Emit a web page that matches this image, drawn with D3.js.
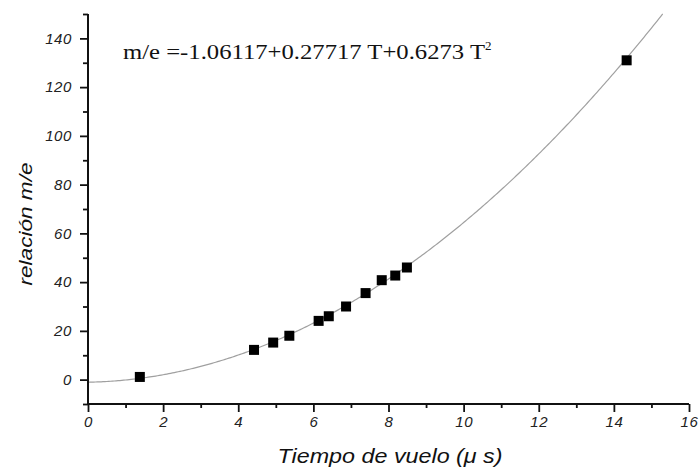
<!DOCTYPE html>
<html><head><meta charset="utf-8">
<script src="https://cdn.jsdelivr.net/npm/d3@7"></script>
<style>body{margin:0;background:#fff}svg{display:block}</style>
</head><body>
<svg id="c" width="699" height="470"></svg>
<script>
// Data
const timeValues = [1.38, 4.42, 4.93, 5.36, 6.14, 6.41, 6.87, 7.39, 7.82, 8.18, 8.49, 14.34];
const ratioValues = [1.1, 12.2, 15.2, 18.0, 24.1, 26.0, 30.0, 35.5, 40.8, 42.7, 46.0, 131.0];
const fitCoefficients = [-1.06117, 0.27717, 0.6273];
const xTicks = [0, 2, 4, 6, 8, 10, 12, 14, 16];
const yTicks = [0, 20, 40, 60, 80, 100, 120, 140];
const xMinorTicks = [1, 3, 5, 7, 9, 11, 13, 15];
const yMinorTicks = [-10, 10, 30, 50, 70, 90, 110, 130, 150];

const svg = d3.select("#c");
const x = d3.scaleLinear().domain([0, 16]).range([88, 689]);
const y = d3.scaleLinear().domain([-10, 150]).range([404, 14]);
const axisColor = "#111";
const sans = "Liberation Sans, Arial, sans-serif";

// Fit curve
const fit = t => fitCoefficients[0] + fitCoefficients[1]*t + fitCoefficients[2]*t*t;
const curvePts = d3.range(0, 16.001, 0.05).map(t => [t, fit(t)]).filter(p => p[1] <= 150.5);
svg.append("path").datum(curvePts)
  .attr("fill","none").attr("stroke","#a0a0a0").attr("stroke-width",1.2)
  .attr("d", d3.line().x(d=>x(d[0])).y(d=>y(d[1])));

// Points
const pts = timeValues.map((t,i)=>[t, ratioValues[i]]);
svg.selectAll("rect.pt").data(pts).enter().append("rect").attr("class","pt")
  .attr("x", d=>x(d[0])-5).attr("y", d=>y(d[1])-5)
  .attr("width",10).attr("height",10).attr("fill","#000");

// Axes
const xAxis = svg.append("g").attr("transform",`translate(0,${y(-10)})`)
  .call(d3.axisBottom(x).tickValues(xTicks).tickSize(8).tickPadding(4).tickFormat(d3.format("d")));
svg.append("g").attr("transform",`translate(0,${y(-10)})`)
  .call(d3.axisBottom(x).tickValues(xMinorTicks).tickSize(4).tickFormat(""))
  .select(".domain").remove();
const yAxis = svg.append("g").attr("transform",`translate(${x(0)},0)`)
  .call(d3.axisLeft(y).tickValues(yTicks).tickSize(8).tickPadding(8).tickFormat(d3.format("d")));
svg.append("g").attr("transform",`translate(${x(0)},0)`)
  .call(d3.axisLeft(y).tickValues(yMinorTicks).tickSize(5).tickFormat(""))
  .select(".domain").remove();

svg.selectAll(".domain").attr("stroke",axisColor).attr("stroke-width",2);
svg.selectAll(".tick line").attr("stroke",axisColor).attr("stroke-width",1.8);
svg.selectAll(".tick text").attr("fill","#222")
  .style("font-family",sans)
  .style("font-style","italic").style("font-size","15px").style("letter-spacing","0.6px");
xAxis.selectAll(".domain").attr("d", `M${x(0)},0H${x(16)}`);
yAxis.selectAll(".domain").attr("d", `M0,${y(-10)}V${y(150)}`);

// Axis titles
svg.append("text").attr("x", 390).attr("y", 463)
  .attr("text-anchor","middle")
  .attr("textLength",225).attr("lengthAdjust","spacingAndGlyphs")
  .style("font-family",sans)
  .style("font-style","italic").style("font-size","20px").attr("fill","#111")
  .text("Tiempo de vuelo (\u03bc s)");
svg.append("text").attr("transform", `translate(32,224) rotate(-90)`)
  .attr("text-anchor","middle")
  .attr("textLength",123).attr("lengthAdjust","spacingAndGlyphs")
  .style("font-family",sans)
  .style("font-style","italic").style("font-size","19px").attr("fill","#111")
  .text("relación m/e");

// Equation
const eq = svg.append("text").attr("x",123).attr("y",59)
  .style("font-family","Liberation Serif, Times New Roman, serif")
  .style("font-size","20px").attr("fill","#111");
eq.append("tspan").attr("textLength",362).attr("lengthAdjust","spacingAndGlyphs")
  .text("m/e =-1.06117+0.27717 T+0.6273 T");
eq.append("tspan").attr("dy",-9).style("font-size","13px").text("2");
</script>
</body></html>
